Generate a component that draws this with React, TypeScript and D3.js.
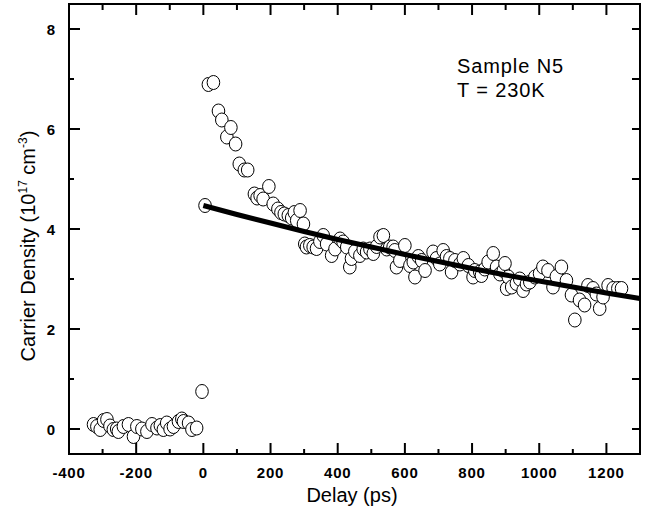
import React from 'react';
import * as d3 from 'd3';

const baselineDelay = [-327, -317, -307, -297, -287, -278, -268, -258, -253, -238, -223, -208, -198, -183, -168, -153, -138, -128, -119, -109, -99, -89, -74, -64, -59, -44, -34, -20];
const baselineDensity = [0.09, 0.05, -0.01, 0.17, 0.19, 0.06, -0.01, 0.0, -0.05, 0.05, 0.09, -0.15, 0.05, 0.0, -0.05, 0.09, 0.02, 0.07, -0.01, 0.12, 0.0, 0.05, 0.15, 0.2, 0.15, 0.12, -0.01, 0.02];

const riseDelay = [-4, 5, 15, 30, 45, 55, 70, 82, 96, 107, 122, 132, 152, 160, 169, 178, 195, 208, 222, 231, 241, 253, 263, 271, 278, 288, 298, 302];
const riseDensity = [0.75, 4.47, 6.89, 6.93, 6.36, 6.18, 5.84, 6.03, 5.70, 5.30, 5.18, 5.18, 4.70, 4.62, 4.67, 4.60, 4.85, 4.50, 4.40, 4.33, 4.30, 4.27, 4.22, 4.33, 4.17, 4.37, 4.10, 3.70];

const tailDelay = [307, 317, 327, 337, 347, 357, 367, 382, 392, 407, 416, 427, 436, 441, 451, 466, 476, 486, 496, 506, 516, 526, 536, 546, 555, 565, 570, 575, 585, 600, 615, 625, 630, 640, 650, 660, 684, 694, 704, 714, 724, 734, 739, 749, 764, 774, 789, 803, 808, 823, 828, 838, 848, 863, 873, 883, 893, 898, 903, 908, 918, 932, 942, 952, 962, 972, 987, 1001, 1011, 1026, 1041, 1051, 1066, 1081, 1096, 1106, 1120, 1135, 1145, 1160, 1170, 1180, 1190, 1205, 1220, 1234, 1245];
const tailDensity = [3.64, 3.67, 3.64, 3.61, 3.75, 3.87, 3.70, 3.47, 3.60, 3.80, 3.74, 3.64, 3.24, 3.41, 3.55, 3.47, 3.60, 3.54, 3.60, 3.51, 3.65, 3.84, 3.87, 3.60, 3.64, 3.64, 3.57, 3.24, 3.37, 3.67, 3.27, 3.34, 3.04, 3.45, 3.37, 3.17, 3.54, 3.41, 3.30, 3.57, 3.45, 3.41, 3.14, 3.37, 3.30, 3.41, 3.27, 3.04, 3.17, 3.14, 3.07, 3.20, 3.34, 3.51, 3.24, 3.10, 3.17, 3.31, 2.81, 3.04, 2.84, 2.91, 3.00, 2.77, 2.90, 2.94, 3.04, 3.11, 3.24, 3.17, 2.84, 3.05, 3.24, 2.97, 2.68, 2.18, 2.58, 2.48, 2.87, 2.81, 2.70, 2.41, 2.64, 2.87, 2.81, 2.81, 2.81];

// Decay fit curve, sampled from the thick line
const fitDelay = [0, 100, 200, 300, 400, 500, 600, 700, 800, 900, 1000, 1100, 1200, 1300];
const fitDensity = [4.47, 4.29, 4.12, 3.95, 3.79, 3.64, 3.49, 3.35, 3.21, 3.08, 2.96, 2.84, 2.72, 2.61];

const xTickValues = [-400, -200, 0, 200, 400, 600, 800, 1000, 1200];
const yTickValues = [0, 2, 4, 6, 8];

const W = 654;
const H = 523;
const M = { left: 69, right: 640, top: 4, bottom: 454 };
const FONT = '"Liberation Sans", Arial, Helvetica, sans-serif';

export default function App() {
  const x = d3.scaleLinear().domain([-400, 1300]).range([M.left, M.right]);
  const y = d3.scaleLinear().domain([-0.5, 8.5]).range([M.bottom, M.top]);

  const delays = [...baselineDelay, ...riseDelay, ...tailDelay];
  const densities = [...baselineDensity, ...riseDensity, ...tailDensity];
  const points = delays.map((d, i) => ({ d, n: densities[i] }));

  const fitLine = d3.line<number>()
    .x(d => x(d))
    .y((d, i) => y(fitDensity[i]))
    .curve(d3.curveLinear);

  const xMinor = d3.range(-300, 1300, 200);
  const yMinor = [1, 3, 5, 7];

  return (
    <svg width={W} height={H} style={{ position: 'absolute', left: 0, top: 0, background: '#fff' }}
      fontFamily={FONT}>
      <rect width={W} height={H} fill="#fff" />

      {/* data points */}
      {points.map((p, i) => (
        <ellipse key={i} cx={x(p.d)} cy={y(p.n)} rx={6.3} ry={7}
          fill="#fff" stroke="#000" strokeWidth={1} />
      ))}

      {/* fit curve, drawn over the circles */}
      <path d={fitLine(fitDelay) || ''} fill="none" stroke="#000" strokeWidth={5} />

      {/* frame */}
      <rect x={M.left} y={M.top} width={M.right - M.left} height={M.bottom - M.top}
        fill="none" stroke="#000" strokeWidth={2} />

      {/* bottom & top ticks */}
      {xTickValues.map(t => (
        <g key={'xt' + t}>
          <line x1={x(t)} x2={x(t)} y1={M.bottom} y2={M.bottom - 11} stroke="#000" strokeWidth={2} />
          <line x1={x(t)} x2={x(t)} y1={M.top} y2={M.top + 11} stroke="#000" strokeWidth={2} />
          <text x={x(t)} y={478} textAnchor="middle" fontSize={15} fontWeight="bold" letterSpacing={0.8}>{t}</text>
        </g>
      ))}
      {xMinor.map(t => (
        <g key={'xm' + t}>
          <line x1={x(t)} x2={x(t)} y1={M.bottom} y2={M.bottom - 5} stroke="#000" strokeWidth={2} />
          <line x1={x(t)} x2={x(t)} y1={M.top} y2={M.top + 6} stroke="#000" strokeWidth={2} />
        </g>
      ))}

      {/* left & right ticks */}
      {yTickValues.map(t => (
        <g key={'yt' + t}>
          <line x1={M.left} x2={M.left + 11} y1={y(t)} y2={y(t)} stroke="#000" strokeWidth={2} />
          <line x1={M.right} x2={M.right - 8} y1={y(t)} y2={y(t)} stroke="#000" strokeWidth={2} />
          <text x={55} y={y(t) + 5.5} textAnchor="end" fontSize={15} fontWeight="bold">{t}</text>
        </g>
      ))}
      {yMinor.map(t => (
        <g key={'ym' + t}>
          <line x1={M.left} x2={M.left + 5} y1={y(t)} y2={y(t)} stroke="#000" strokeWidth={2} />
          <line x1={M.right} x2={M.right - 8} y1={y(t)} y2={y(t)} stroke="#000" strokeWidth={2} />
        </g>
      ))}

      {/* axis titles */}
      <text x={352} y={502} textAnchor="middle" fontSize={20}>Delay (ps)</text>
      <text transform="translate(35,246) rotate(-90)" textAnchor="middle" fontSize={20}>
        Carrier Density (10<tspan fontSize={12} dy={-8}>17</tspan>
        <tspan dy={8}> cm</tspan><tspan fontSize={12} dy={-8}>-3</tspan><tspan dy={8}>)</tspan>
      </text>

      {/* annotation */}
      <text x={457} y={73} fontSize={20} letterSpacing={0.9}>Sample N5</text>
      <text x={457} y={97} fontSize={20} letterSpacing={0.9}>T = 230K</text>
    </svg>
  );
}
